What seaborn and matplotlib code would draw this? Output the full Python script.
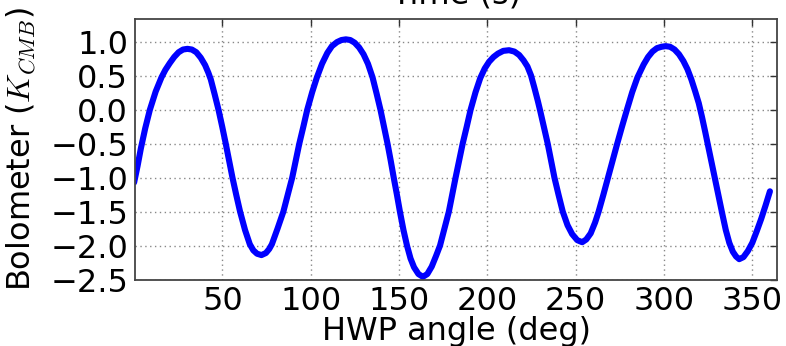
import matplotlib
matplotlib.use("Agg")
import matplotlib.pyplot as plt
import seaborn as sns
import pandas as pd

# HWP angle (deg) and bolometer signal (K_CMB) along one full rotation
hwp_angle = [
    0, 2, 3.8, 6.3, 8.9, 12.2, 15.5, 17.7, 20.2, 22.7, 25.2, 27.7, 30.2, 32.7,
    35.2, 37.7, 40.2, 42, 43.4, 45.6, 47.8, 49.9, 51.9, 53.8, 55.7, 57.8, 60,
    62.8, 65.5, 67.5, 69.6, 72.1, 74.6, 76.5, 78, 81.2, 84.5, 87, 89.5, 91.5,
    93.5, 95.8, 98, 100.8, 103.5, 106.4, 109.4, 112, 114.9, 117.4, 119.9, 122.4,
    124.9, 127.4, 129.9, 132.4, 135, 137.3, 139.5, 141.5, 143.5, 145.3, 147,
    148.8, 150.5, 152.5, 154.5, 156.5, 158.5, 161, 163.5, 166, 168.5, 171, 173.2,
    175.7, 178.2, 180.1, 182, 184, 186, 188.3, 190.5, 193.3, 196, 198.5, 201,
    203.5, 206, 209, 212.3, 215.3, 218, 220.5, 222.7, 224.7, 226.6, 228.6,
    229.8, 232, 234.2, 236.1, 238, 240.3, 242.7, 245.4, 248, 250.9, 253.7,
    256, 258.5, 261, 263, 265.7, 268.3, 270.9, 273.5, 276.2, 279, 282, 285,
    288.5, 291, 293.5, 296, 298.5, 301, 303.5, 306, 308.5, 311, 313.3, 315.5,
    317.6, 319.7, 321.5, 323.4, 325.4, 327.3, 329.2, 331.1, 333, 335, 337, 339,
    340.8, 342.6, 345, 347.5, 350, 352.5, 355, 357.5, 360,
]
bolometer = [
    -1.07, -0.82, -0.57, -0.27, 0.00, 0.27, 0.48, 0.59, 0.69, 0.78, 0.85, 0.89,
    0.90, 0.89, 0.85, 0.77, 0.66, 0.55, 0.45, 0.23, 0.00, -0.25, -0.50, -0.75,
    -1.00, -1.25, -1.50, -1.77, -1.98, -2.07, -2.12, -2.14, -2.11, -2.05, -1.98,
    -1.75, -1.50, -1.25, -1.00, -0.75, -0.50, -0.25, 0.00, 0.26, 0.48, 0.68,
    0.84, 0.94, 1.00, 1.03, 1.04, 1.03, 0.99, 0.92, 0.82, 0.68, 0.48, 0.24, 0.00,
    -0.25, -0.50, -0.75, -1.00, -1.25, -1.50, -1.77, -2.00, -2.19, -2.32, -2.42,
    -2.46, -2.42, -2.31, -2.15, -2.00, -1.75, -1.50, -1.25, -1.00, -0.75, -0.50,
    -0.25, 0.00, 0.26, 0.47, 0.61, 0.71, 0.78, 0.83, 0.87, 0.88, 0.86, 0.81,
    0.73, 0.64, 0.51, 0.33, 0.13, 0.00, -0.25, -0.50, -0.75, -1.00, -1.25,
    -1.50, -1.70, -1.83, -1.92, -1.95, -1.91, -1.82, -1.66, -1.50, -1.25, -1.00,
    -0.75, -0.50, -0.25, 0.00, 0.26, 0.48, 0.67, 0.78, 0.86, 0.91, 0.93, 0.94,
    0.93, 0.89, 0.82, 0.72, 0.60, 0.45, 0.28, 0.10, -0.10, -0.33, -0.58, -0.82,
    -1.05, -1.29, -1.53, -1.77, -1.96, -2.09, -2.16, -2.20, -2.17, -2.08, -1.96,
    -1.79, -1.61, -1.41, -1.20,
]

x_ticks = [50, 100, 150, 200, 250, 300, 350]
y_ticks = [-2.5, -2.0, -1.5, -1.0, -0.5, 0.0, 0.5, 1.0]

sns.set_style("white")
plt.rcParams["font.family"] = ["DejaVu Sans"]
plt.rcParams["mathtext.fontset"] = "cm"
plt.rcParams["text.color"] = "black"
plt.rcParams["axes.labelcolor"] = "black"

df = pd.DataFrame({"angle": hwp_angle, "signal": bolometer})

fig = plt.figure(figsize=(7.86, 3.46), dpi=100)
ax = fig.add_axes([135 / 786, 1 - 279.5 / 346, 642 / 786, 260.5 / 346])

sns.lineplot(data=df, x="angle", y="signal", ax=ax, color="#0000ff",
             linewidth=4.4, estimator=None, sort=False)

ax.set_xlim(0.5, 364)
ax.set_ylim(-2.5, 1.34)
ax.set_xticks(x_ticks)
ax.set_yticks(y_ticks)
ax.set_xticklabels([f"{v:d}" for v in x_ticks])
ax.set_yticklabels([f"{v:.1f}".replace("-", "\u2212") for v in y_ticks])
ax.grid(True, linestyle=(0, (1, 2.5)), color="#888888", linewidth=1.0)
ax.tick_params(direction="in", top=True, right=True, length=5, width=1,
               labelsize=23, pad=5, colors="#333333", labelcolor="black")
for s in ax.spines.values():
    s.set_color("#444444")
    s.set_linewidth(1.3)

ax.set_xlabel("HWP angle (deg)", fontsize=23, labelpad=-1)
ax.set_ylabel("Bolometer ($K_{CMB}$)", fontsize=23)
ax.yaxis.set_label_coords(-0.151, 0.5)

# label of the time axis above the panel
fig.text(456 / 786, 1 - 4 / 346, "Time (s)", ha="center", va="baseline", fontsize=23)

fig.savefig("out.png", dpi=100)
